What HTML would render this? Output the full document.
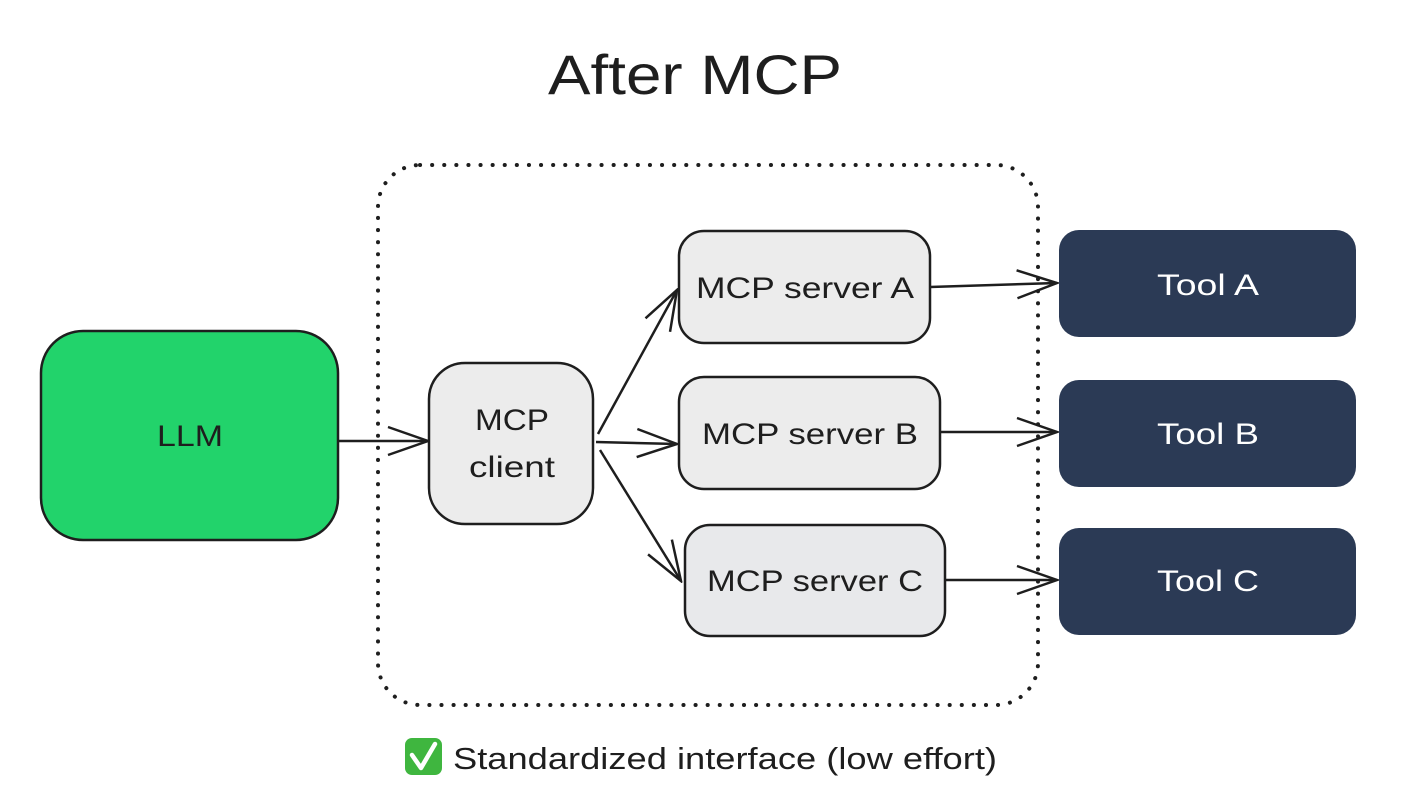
<!DOCTYPE html>
<html><head><meta charset="utf-8"><style>
html,body{margin:0;padding:0;background:#fff;}
svg{display:block;}
text{font-family:"Liberation Sans","DejaVu Sans",sans-serif;}
</style></head><body>
<svg width="1406" height="810" viewBox="0 0 1406 810" xmlns="http://www.w3.org/2000/svg">
<defs>
<marker id="ah" markerWidth="44" markerHeight="34" refX="42" refY="17" orient="auto" markerUnits="userSpaceOnUse">
<path d="M2,3 L42,17 L2,31" fill="none" stroke="#1e1e1e" stroke-width="2.5"/>
</marker>
</defs>
<text x="548" y="94" font-size="56" textLength="294" lengthAdjust="spacingAndGlyphs" fill="#1e1e1e">After MCP</text>
<rect x="378" y="165" width="660" height="540" rx="42" fill="none" stroke="#1e1e1e" stroke-width="4" stroke-dasharray="0.1 12" stroke-linecap="round"/>
<rect x="41" y="331" width="297" height="209" rx="42" fill="#22d36b" stroke="#1e1e1e" stroke-width="2.5"/>
<text x="157" y="446" font-size="30" textLength="66" lengthAdjust="spacingAndGlyphs" fill="#1e1e1e">LLM</text>
<rect x="429" y="363" width="164" height="161" rx="36" fill="#ececec" stroke="#1e1e1e" stroke-width="2.5"/>
<text x="475" y="430" font-size="30" textLength="74" lengthAdjust="spacingAndGlyphs" fill="#1e1e1e">MCP</text>
<text x="469" y="477" font-size="30" textLength="86" lengthAdjust="spacingAndGlyphs" fill="#1e1e1e">client</text>
<rect x="679" y="231" width="251" height="112" rx="25" fill="#ececec" stroke="#1e1e1e" stroke-width="2.5"/>
<text x="696" y="298" font-size="30" textLength="218" lengthAdjust="spacingAndGlyphs" fill="#1e1e1e">MCP server A</text>
<rect x="679" y="377" width="261" height="112" rx="25" fill="#ececec" stroke="#1e1e1e" stroke-width="2.5"/>
<text x="702" y="444" font-size="30" textLength="216" lengthAdjust="spacingAndGlyphs" fill="#1e1e1e">MCP server B</text>
<rect x="685" y="525" width="260" height="111" rx="25" fill="#e8e9eb" stroke="#1e1e1e" stroke-width="2.5"/>
<text x="707" y="591" font-size="30" textLength="216" lengthAdjust="spacingAndGlyphs" fill="#1e1e1e">MCP server C</text>
<rect x="1059" y="230" width="297" height="107" rx="20" fill="#2b3a55"/>
<text x="1157" y="295" font-size="30" textLength="102" lengthAdjust="spacingAndGlyphs" fill="#fff">Tool A</text>
<rect x="1059" y="380" width="297" height="107" rx="20" fill="#2b3a55"/>
<text x="1157" y="444" font-size="30" textLength="102" lengthAdjust="spacingAndGlyphs" fill="#fff">Tool B</text>
<rect x="1059" y="528" width="297" height="107" rx="20" fill="#2b3a55"/>
<text x="1157" y="591" font-size="30" textLength="102" lengthAdjust="spacingAndGlyphs" fill="#fff">Tool C</text>
<g stroke="#1e1e1e" stroke-width="2.5" fill="none" marker-end="url(#ah)">
<line x1="338" y1="441" x2="428" y2="441"/>
<line x1="598" y1="434" x2="677" y2="290"/>
<line x1="596" y1="442" x2="677" y2="444"/>
<line x1="600" y1="450" x2="681" y2="581"/>
<line x1="930" y1="287" x2="1057" y2="283"/>
<line x1="940" y1="432" x2="1057" y2="432"/>
<line x1="945" y1="580" x2="1057" y2="580"/>
</g>
<rect x="405" y="738" width="37" height="37" rx="7" fill="#3fb63f"/>
<path d="M412,755 L421,768 L435,744" fill="none" stroke="#fff" stroke-width="4.5" stroke-linecap="round" stroke-linejoin="round"/>
<text x="453" y="769" font-size="31" textLength="544" lengthAdjust="spacingAndGlyphs" fill="#1e1e1e">Standardized interface (low effort)</text>
</svg>
</body></html>
